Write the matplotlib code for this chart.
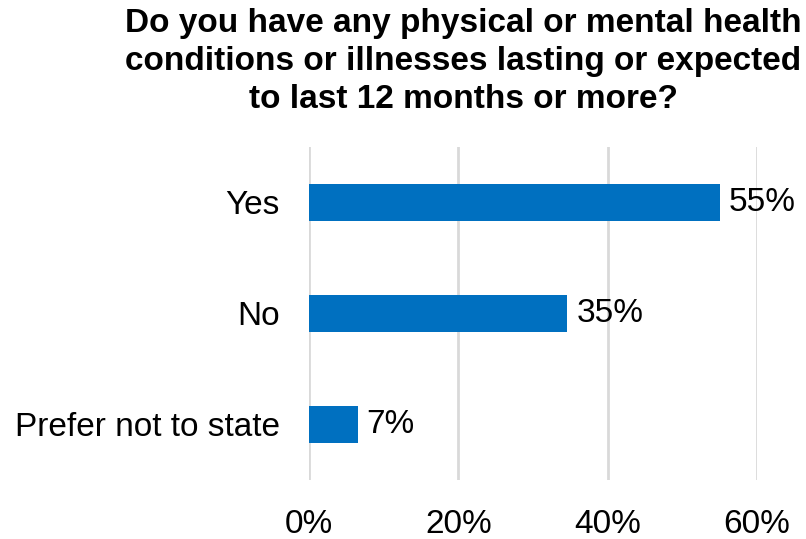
import matplotlib
matplotlib.use("Agg")
import matplotlib.pyplot as plt

categories = ["Yes", "No", "Prefer not to state"]
values = [55.0, 34.6, 6.5]
labels = ["55%", "35%", "7%"]
xticks = [0, 20, 40, 60]
xticklabels = ["0%", "20%", "40%", "60%"]
title = "Do you have any physical or mental health\nconditions or illnesses lasting or expected\nto last 12 months or more?"

plt.rcParams['font.family'] = ['Liberation Sans', 'DejaVu Sans']
fig = plt.figure(figsize=(8.06, 5.39), dpi=100)
ax = fig.add_axes([0.3834, 0.1095, 0.5558, 0.6178])

y = list(range(len(categories)))
ax.barh(y, values, height=0.34, color="#0070C0", zorder=3)
for yi, v, l in zip(y, values, labels):
    ax.text(v + 1.2, yi, l, va="center", ha="left", fontsize=24, color="#000000")

ax.set_ylim(2.5, -0.5)
ax.set_xlim(0, 60)
ax.set_yticks(y)
ax.set_yticklabels(categories, fontsize=24)
ax.set_xticks(xticks)
ax.set_xticklabels(xticklabels, fontsize=24)
ax.tick_params(axis="y", length=0, pad=21)
ax.tick_params(axis="x", length=0, pad=21)
for s in ax.spines.values():
    s.set_visible(False)
ax.xaxis.grid(True, color="#D9D9D9", linewidth=2, zorder=0)
ax.set_axisbelow(True)

fig.text(0.575, 0.985, title, ha="center", va="top", fontsize=24,
         fontweight="bold", linespacing=1.3)

fig.savefig("out.png", dpi=100)
